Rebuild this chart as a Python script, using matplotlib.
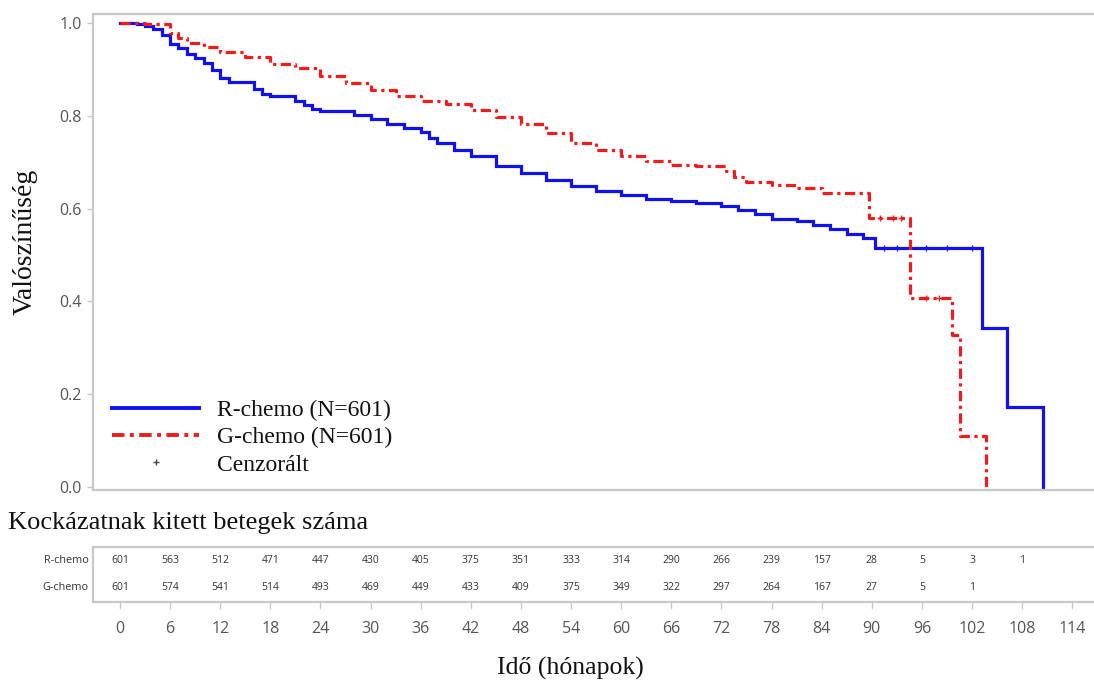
import matplotlib
matplotlib.use("Agg")
import matplotlib.pyplot as plt
from matplotlib.lines import Line2D

# ---------------- data ----------------
r_times = [0, 2, 3, 4, 5, 6, 7, 8, 9, 10, 11, 12, 13, 16, 17, 18, 21, 22, 23, 24, 28, 30,
           32, 34, 36, 37, 38, 40, 42, 45, 48, 51, 54, 57, 60, 63, 66, 69, 72, 74, 76, 78,
           81, 83, 85, 87, 89, 90.4, 103.2, 106.2, 110.5]
r_surv = [1.0, 0.998, 0.994, 0.987, 0.974, 0.955, 0.946, 0.933, 0.925, 0.914, 0.899, 0.881,
          0.873, 0.858, 0.847, 0.843, 0.832, 0.823, 0.815, 0.810, 0.802, 0.793, 0.782, 0.774,
          0.765, 0.752, 0.741, 0.726, 0.713, 0.692, 0.677, 0.662, 0.649, 0.638, 0.629, 0.621,
          0.616, 0.612, 0.606, 0.597, 0.588, 0.578, 0.573, 0.565, 0.556, 0.545, 0.537, 0.515,
          0.343, 0.172, 0.0]

g_times = [0, 3, 6, 7, 8, 10, 12, 15, 18, 21, 24, 27, 30, 33, 36, 39, 42, 45, 48, 51, 54,
           57, 60, 63, 66, 69, 72.5, 73.5, 75, 78, 81, 84, 89.7, 94.6, 99.6, 100.6, 103.7]
g_surv = [1.0, 0.998, 0.978, 0.968, 0.957, 0.948, 0.937, 0.927, 0.912, 0.903, 0.886, 0.871,
          0.856, 0.843, 0.832, 0.825, 0.812, 0.797, 0.782, 0.763, 0.741, 0.726, 0.713, 0.703,
          0.694, 0.692, 0.680, 0.668, 0.657, 0.651, 0.644, 0.634, 0.580, 0.407, 0.328, 0.109,
          0.0]

r_cens_t = [91.5, 93.0, 96.5, 99.0, 102.0]
r_cens_s = [0.515, 0.515, 0.515, 0.515, 0.515]
g_cens_t = [91.0, 92.5, 93.5, 96.5, 98.0]
g_cens_s = [0.580, 0.580, 0.580, 0.407, 0.407]

risk_times = [0, 6, 12, 18, 24, 30, 36, 42, 48, 54, 60, 66, 72, 78, 84, 90, 96, 102, 108]
risk_r = [601, 563, 512, 471, 447, 430, 405, 375, 351, 333, 314, 290, 266, 239, 157, 28, 5, 3, 1]
risk_g = [601, 574, 541, 514, 493, 469, 449, 433, 409, 375, 349, 322, 297, 264, 167, 27, 5, 1, None]

x_ticks = list(range(0, 115, 6))
y_ticks = [0.0, 0.2, 0.4, 0.6, 0.8, 1.0]

labels = ["R-chemo (N=601)", "G-chemo (N=601)", "Cenzorált"]
row_names = ["R-chemo", "G-chemo"]

# ---------------- style ----------------
BLUE = "#1010f0"
RED = "#ee1c1c"
SPINE = "#c8c8c8"
TICKC = "#555555"
serif = ["Liberation Serif", "DejaVu Serif"]
sans = ["Open Sans", "DejaVu Sans"]
narrow = ["Liberation Sans Narrow", "Open Sans", "DejaVu Sans"]
dashdot = (0, (3.2, 1.4, 1.0, 1.4))

W, H = 1094, 684
fig = plt.figure(figsize=(W / 100, H / 100), dpi=100)

def frac_box(l, t, r, b):
    return [l / W, 1 - b / H, (r - l) / W, (b - t) / H]

XMIN, XMAX = -3.23, 116.6

ax = fig.add_axes(frac_box(93, 14, 1094, 490))
ax.step(r_times, r_surv, where="post", color=BLUE, lw=2.3, solid_joinstyle="miter")
ax.step(g_times, g_surv, where="post", color=RED, lw=2.3, linestyle=dashdot)
ax.plot(r_cens_t, r_cens_s, ls="none", marker="+", ms=4, mew=1, color=BLUE)
ax.plot(g_cens_t, g_cens_s, ls="none", marker="+", ms=4, mew=1, color=RED)

ax.set_xlim(XMIN, XMAX)
ax.set_ylim((487 - 490) / 464, (487 - 14) / 464)
ax.set_yticks(y_ticks)
ax.set_yticklabels([f"{v:.1f}" for v in y_ticks], fontfamily=sans, fontsize=11.5, color=TICKC)
ax.tick_params(axis="y", length=4, width=1, color=SPINE, pad=4)
ax.tick_params(axis="x", bottom=False, labelbottom=False)
for s in ["left", "top", "bottom"]:
    ax.spines[s].set_color(SPINE)
    ax.spines[s].set_linewidth(1.6)
ax.spines["right"].set_visible(False)

fig.text(25 / W, 1 - 242 / H, "Valószínűség", rotation=90, ha="center", va="center",
         fontfamily=serif, fontsize=20, color="#111111")

handles = [
    Line2D([], [], color=BLUE, lw=2.8),
    Line2D([], [], color=RED, lw=2.8, linestyle=dashdot),
    Line2D([], [], ls="none", marker="+", ms=4, mew=1, color="#444444"),
]
leg = ax.legend(handles, labels, loc="lower left", bbox_to_anchor=(0.019, 0.03),
                frameon=False, prop={"family": serif, "size": 17}, handlelength=3.7,
                handletextpad=0.75, labelspacing=0.24, borderpad=0, borderaxespad=0)
for t in leg.get_texts():
    t.set_color("#111111")

# ---------------- risk table ----------------
ax2 = fig.add_axes(frac_box(93, 547, 1094, 602))
ax2.set_xlim(XMIN, XMAX)
ax2.set_ylim(0, 1)
for t, n in zip(risk_times, risk_r):
    if n is not None:
        ax2.text(t, 0.75, str(n), ha="center", va="center", fontsize=7.5,
                 fontfamily=narrow, color="#333333")
for t, n in zip(risk_times, risk_g):
    if n is not None:
        ax2.text(t, 0.255, str(n), ha="center", va="center", fontsize=7.5,
                 fontfamily=narrow, color="#333333")
for yy, name in zip([0.75, 0.255], row_names):
    ax2.text(-0.004, yy, name, transform=ax2.transAxes, ha="right", va="center",
             fontsize=7.8, fontfamily=sans, color="#333333")
ax2.set_yticks([])
ax2.set_xticks(x_ticks)
ax2.set_xticklabels([str(v) for v in x_ticks], fontfamily=sans, fontsize=11.5, color=TICKC)
ax2.tick_params(axis="x", length=5, width=1, color=SPINE, pad=9)
for s in ["left", "top", "bottom"]:
    ax2.spines[s].set_color(SPINE)
    ax2.spines[s].set_linewidth(1.6)
ax2.spines["right"].set_visible(False)

fig.text(8 / W, 1 - 523 / H, "Kockázatnak kitett betegek száma", ha="left", va="center",
         fontfamily=serif, fontsize=19, color="#111111")
fig.text(570 / W, 1 - 668 / H, "Idő (hónapok)", ha="center", va="center",
         fontfamily=serif, fontsize=18.5, color="#111111")

fig.savefig("out.png", dpi=100, facecolor="white")
